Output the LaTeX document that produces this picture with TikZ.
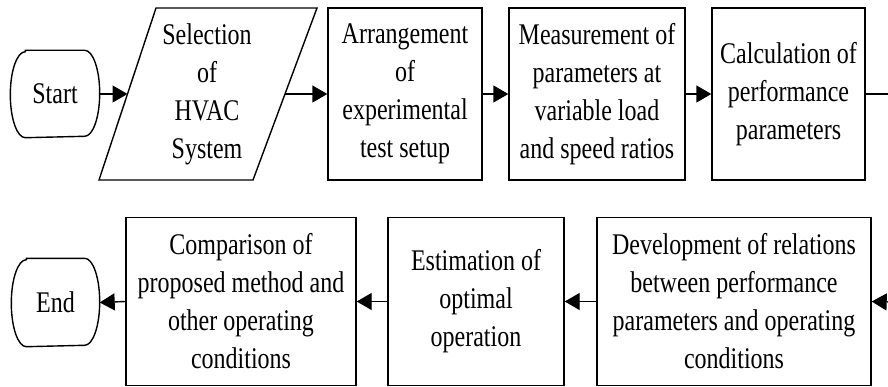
\documentclass[tikz,border=0pt]{standalone}
\usepackage{fontspec}
\setmainfont{Liberation Serif}[FakeStretch=0.8]
\usetikzlibrary{arrows.meta}
\begin{document}
\begin{tikzpicture}[x=1pt,y=-1pt,
  line width=1.4pt,
  txt/.style={align=center,inner sep=0pt,font=\fontsize{30}{38}\selectfont},
  procbox/.style={txt,draw,minimum height=172pt},
  procbox2/.style={txt,draw,minimum height=168.5pt},
  flow/.style={-{Triangle[length=15pt,width=17pt]}}]
\useasboundingbox (0,0) rectangle (888,387);
% row 1
\node[txt,minimum width=88pt,minimum height=86pt] (start) at (55,94) {Start};
\draw ([xshift=15pt]start.north west) -- ([xshift=-15pt]start.north east)
  arc[start angle=90,end angle=-90,x radius=15pt,y radius=43pt]
  -- ([xshift=15pt]start.south west)
  arc[start angle=270,end angle=90,x radius=15pt,y radius=43pt] -- cycle;
\node[txt] (sel) at (207,94) {Selection\\of\\HVAC\\System};
\draw (156,8) -- (317,8) -- (253,180) -- (99,180) -- cycle;
\coordinate (selL) at (127.5,94);
\coordinate (selR) at (285,94);
\node[procbox,minimum width=154pt] (arr) at (405,94) {Arrangement\\of\\experimental\\test setup};
\node[procbox,minimum width=176pt] (meas) at (597,94) {Measurement of\\parameters at\\variable load\\and speed ratios};
\node[procbox,minimum width=153pt] (calc) at (788.5,94) {Calculation of\\performance\\parameters};
\coordinate (calcOut) at (889,94);
% row 2
\node[txt,minimum width=87pt,minimum height=87pt] (end) at (55.5,302.5) {End};
\draw ([xshift=15pt]end.north west) -- ([xshift=-15pt]end.north east)
  arc[start angle=90,end angle=-90,x radius=15pt,y radius=43.5pt]
  -- ([xshift=15pt]end.south west)
  arc[start angle=270,end angle=90,x radius=15pt,y radius=43.5pt] -- cycle;
\node[procbox2,minimum width=230pt] (comp) at (241,301.5) {Comparison of\\proposed method and\\other operating\\conditions};
\node[procbox2,minimum width=176pt] (est) at (476,301.5) {Estimation of\\optimal\\operation};
\node[procbox2,minimum width=274pt] (dev) at (734,301.5) {Development of relations\\between performance\\parameters and operating\\conditions};
\coordinate (devIn) at (889,302);
% connectors
\draw[flow] (start.east) -- (selL);
\draw[flow] (selR) -- (arr.west);
\draw[flow] (arr.east) -- (meas.west);
\draw[flow] (meas.east) -- (calc.west);
\draw (calc.east) -- (calcOut);
\draw[flow] (devIn) -- (dev.east);
\draw[flow] (dev.west) -- (est.east);
\draw[flow] (est.west) -- (comp.east);
\draw[flow] (comp.west) -- (end.east);
\end{tikzpicture}
\end{document}
